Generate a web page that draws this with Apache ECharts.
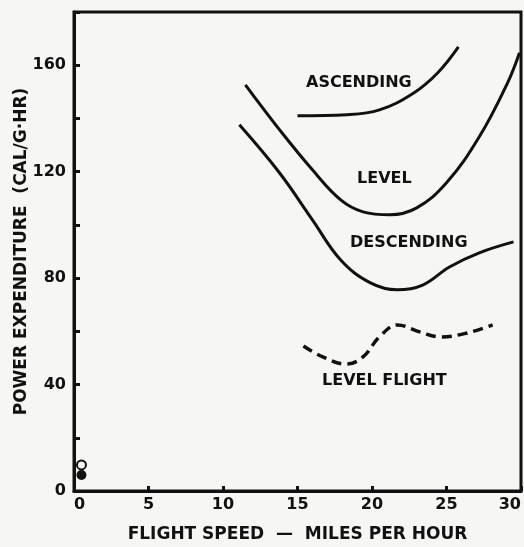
<!DOCTYPE html>
<html>
<head>
<meta charset="utf-8">
<script src="https://cdn.jsdelivr.net/npm/echarts@6/dist/echarts.min.js"></script>
<style>
    html, body { margin: 0; padding: 0; background: #f6f6f4; }
    #chart { width: 524px; height: 547px; }
</style>
</head>
<body>
<div id="chart"></div>
<script>
// curves: [speed mph, cal/g-hr]
var ascending = [[15.0, 141], [18.3, 141.4], [20.5, 143.2], [22.8, 149.6], [24.4, 157.1], [25.8, 166.9]];
var level = [[11.5, 152.6], [13.8, 135.7], [16.0, 120.7], [17.9, 109.4], [19.4, 104.9], [21.2, 103.8],
    [23.0, 106.4], [25.0, 115.8], [27.2, 133.1], [29.1, 153.4], [29.9, 164.7]];
var descending = [[11.1, 137.6], [13.8, 119.5], [16.0, 101.9], [17.9, 86.8], [19.9, 78.2], [21.7, 75.6],
    [23.4, 77.4], [25.2, 84.2], [27.2, 89.5], [29.5, 93.6]];
var levelFlight = [[15.4, 54.5], [16.7, 50.4], [18.3, 47.7], [19.4, 50.4], [20.5, 57.9], [21.7, 62.4],
    [23.2, 59.8], [24.6, 57.9], [26.4, 59.4], [28.1, 62.4]];
// hovering points at zero speed
var hoverOpen = [[0.5, 9.8]];
var hoverFilled = [[0.5, 6]];

var FONT = 'DejaVu Sans';
var INK = '#111';
var PAPER = '#f6f6f4';

var myChart = echarts.init(document.getElementById('chart'));

function curve (data, dashed) {
    return {
        type: 'line',
        data: data,
        smooth: 0.4,
        symbol: 'none',
        lineStyle: { color: INK, width: dashed ? 3.5 : 3, type: dashed ? [10, 6] : 'solid' },
        silent: true
    };
}

function tag (text, x, y) {
    return {
        type: 'text',
        left: x,
        top: y,
        style: { text: text, fill: INK, font: 'bold 16px ' + FONT }
    };
}

var options = {
    backgroundColor: PAPER,
    animation: false,
    grid: {
        left: 74, right: 3, top: 12, bottom: 56,
        outerBoundsMode: 'none',
        show: true, borderColor: INK, borderWidth: 3
    },
    xAxis: {
        type: 'value',
        min: 0, max: 30, interval: 5,
        name: 'FLIGHT SPEED  —  MILES PER HOUR',
        nameLocation: 'middle',
        nameGap: 35,
        nameMoveOverlap: false,
        nameTextStyle: { color: INK, fontFamily: FONT, fontWeight: 'bold', fontSize: 17 },
        axisLine: { lineStyle: { color: INK, width: 3 } },
        axisTick: { inside: true, length: 5, lineStyle: { color: INK, width: 3 } },
        axisLabel: {
            color: INK, fontFamily: FONT, fontWeight: 'bold', fontSize: 16, margin: 6,
            alignMinLabel: 'left', alignMaxLabel: 'right'
        },
        splitLine: { show: false }
    },
    yAxis: {
        type: 'value',
        min: 0, max: 180, interval: 20,
        name: 'POWER EXPENDITURE  (CAL/G·HR)',
        nameLocation: 'middle',
        nameRotate: 90,
        nameGap: 44,
        nameMoveOverlap: false,
        nameTextStyle: { color: INK, fontFamily: FONT, fontWeight: 'bold', fontSize: 17 },
        axisLine: { lineStyle: { color: INK, width: 3 } },
        axisTick: { inside: true, length: 6, lineStyle: { color: INK, width: 3 } },
        axisLabel: {
            color: INK, fontFamily: FONT, fontWeight: 'bold', fontSize: 16, margin: 8,
            formatter: function (v) { return v % 40 === 0 && v <= 160 ? v : ''; }
        },
        splitLine: { show: false }
    },
    graphic: [
        tag('ASCENDING', 306, 75),
        tag('LEVEL', 357, 171),
        tag('DESCENDING', 350, 235),
        tag('LEVEL FLIGHT', 322, 373)
    ],
    series: [
        curve(ascending),
        curve(level),
        curve(descending),
        curve(levelFlight, true),
        {
            type: 'scatter', data: hoverOpen, symbol: 'circle', symbolSize: 9, z: 3,
            itemStyle: { color: PAPER, borderColor: INK, borderWidth: 2, opacity: 1 }
        },
        {
            type: 'scatter', data: hoverFilled, symbol: 'circle', symbolSize: 10, z: 4,
            itemStyle: { color: INK, opacity: 1 }
        }
    ]
};
myChart.setOption(options);
</script>
</body>
</html>
